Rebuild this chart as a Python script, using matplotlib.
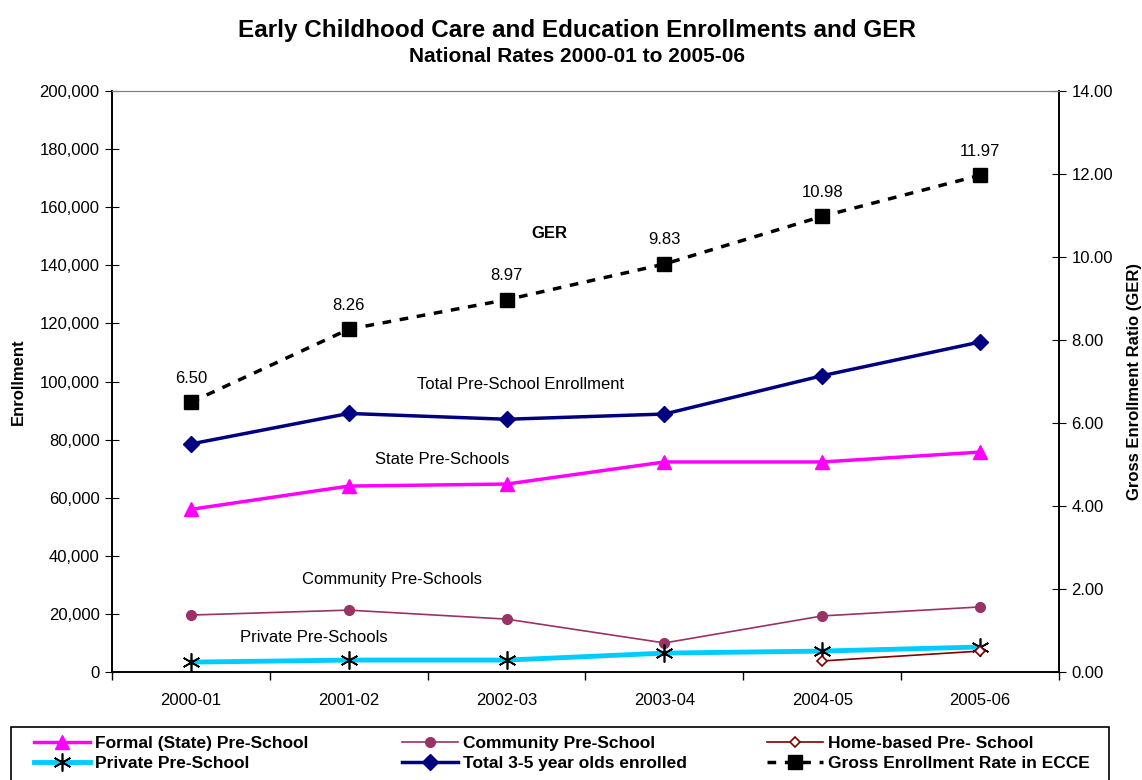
import numpy as np
import matplotlib
matplotlib.use('Agg')
from matplotlib import pyplot as plt
from matplotlib.patches import Rectangle
from matplotlib.ticker import FuncFormatter, MultipleLocator, FixedLocator

plt.rcParams['font.family'] = ['Liberation Sans', 'DejaVu Sans']

years = ['2000-01', '2001-02', '2002-03', '2003-04', '2004-05', '2005-06']
state = [56000, 64000, 64700, 72300, 72300, 75700]
community = [19600, 21300, 18200, 10000, 19300, 22400]
home_based = [None, None, None, None, 3800, 7200]
private = [3400, 4100, 4100, 6500, 7200, 8600]
total = [78500, 89000, 87000, 88800, 102000, 113600]
ger = [6.50, 8.26, 8.97, 9.83, 10.98, 11.97]

W, H = 1142, 780


def main():
    fig = plt.figure(figsize=(W / 100, H / 100), dpi=100)
    ax = fig.add_axes([112 / W, 1 - 672 / H, (1059 - 112) / W, (672 - 91) / H])
    ax2 = ax.twinx()

    x = np.arange(len(years))
    hb = np.array([np.nan if v is None else v for v in home_based], dtype=float)

    l_state, = ax.plot(x, state, color='#FF00FF', lw=2.5, marker='^', ms=10,
                       label='Formal (State) Pre-School', zorder=3)
    l_comm, = ax.plot(x, community, color='#993366', lw=1.2, marker='o', ms=7,
                      label='Community Pre-School', zorder=3)
    l_home, = ax.plot(x, hb, color='#800000', lw=1.2, marker='D', ms=5,
                      mfc='white', mec='#800000', mew=1.2,
                      label='Home-based Pre- School', zorder=4)
    l_priv, = ax.plot(x, private, color='#00CCFF', lw=3.5, marker=(6, 2, 0), ms=13,
                      mec='black', mew=1.2, label='Private Pre-School', zorder=3)
    l_tot, = ax.plot(x, total, color='#000080', lw=2.5, marker='D', ms=8,
                     label='Total 3-5 year olds enrolled', zorder=3)
    l_ger, = ax2.plot(x, ger, color='black', lw=2.5, ls=(0, (2.5, 2.5)), marker='s', ms=10,
                      label='Gross Enrollment Rate in ECCE', zorder=3)

    for xi, v in zip(x, ger):
        ax2.annotate(f'{v:.2f}', (xi, v), xytext=(0, 12), textcoords='offset points',
                     ha='center', va='bottom', fontsize=12)

    ax.set_xlim(-0.5, len(years) - 0.5)
    ax.set_ylim(0, 200000)
    ax2.set_ylim(0, 14)

    ax.yaxis.set_major_locator(MultipleLocator(20000))
    ax.yaxis.set_major_formatter(FuncFormatter(lambda v, p: f'{int(v):,}'))
    ax2.yaxis.set_major_locator(MultipleLocator(2))
    ax2.yaxis.set_major_formatter(FuncFormatter(lambda v, p: f'{v:.2f}'))

    ax.set_xticks(x)
    ax.set_xticklabels(years)
    ax.xaxis.set_minor_locator(FixedLocator(np.arange(-0.5, len(years), 1.0)))
    ax.tick_params(axis='x', which='major', length=0, labelsize=12, pad=15)
    ax.tick_params(axis='x', which='minor', length=6, direction='out', width=1)
    ax.tick_params(axis='y', direction='inout', length=10, labelsize=12, pad=4)
    ax2.tick_params(axis='y', direction='inout', length=10, labelsize=12, pad=4)

    for a in (ax, ax2):
        a.spines['top'].set_color('#808080')
        for s in ('left', 'right', 'bottom'):
            a.spines[s].set_color('black')
            a.spines[s].set_linewidth(1.2)

    ax.set_ylabel('Enrollment', fontsize=12, fontweight='bold', labelpad=10)
    ax2.set_ylabel('Gross Enrollment Ratio (GER)', fontsize=12, fontweight='bold', labelpad=10)

    ax.text(2.27, 150800, 'GER', fontsize=12, fontweight='bold', ha='center', va='center')
    ax.text(2.09, 98800, 'Total Pre-School Enrollment', fontsize=12, ha='center', va='center')
    ax.text(1.59, 73300, 'State Pre-Schools', fontsize=12, ha='center', va='center')
    ax.text(1.276, 31700, 'Community Pre-Schools', fontsize=12, ha='center', va='center')
    ax.text(0.78, 12000, 'Private Pre-Schools', fontsize=12, ha='center', va='center')

    fig.text(577 / W, 1 - 30 / H, 'Early Childhood Care and Education Enrollments and GER',
             fontsize=17.5, fontweight='bold', ha='center', va='center')
    fig.text(577 / W, 1 - 57 / H, 'National Rates 2000-01 to 2005-06',
             fontsize=15, fontweight='bold', ha='center', va='center')

    # legend: one box, three columns placed by hand
    fig.add_artist(Rectangle((11 / W, -0.05), (1109 - 11) / W, 0.05 + 1 - 727 / H,
                             transform=fig.transFigure, fill=False, edgecolor='black', lw=1.2))
    columns = [([l_state, l_priv], 34), ([l_comm, l_tot], 402), ([l_home, l_ger], 767)]
    for hs, px in columns:
        fig.legend(handles=hs, loc='upper left', bbox_to_anchor=(px / W, 1 - 736 / H),
                   prop={'size': 12.5, 'weight': 'bold'}, frameon=False,
                   handlelength=3.2, handletextpad=0.3, borderpad=0,
                   labelspacing=0.28, borderaxespad=0)

    fig.savefig('out.png', dpi=100)


if __name__ == '__main__':
    main()
